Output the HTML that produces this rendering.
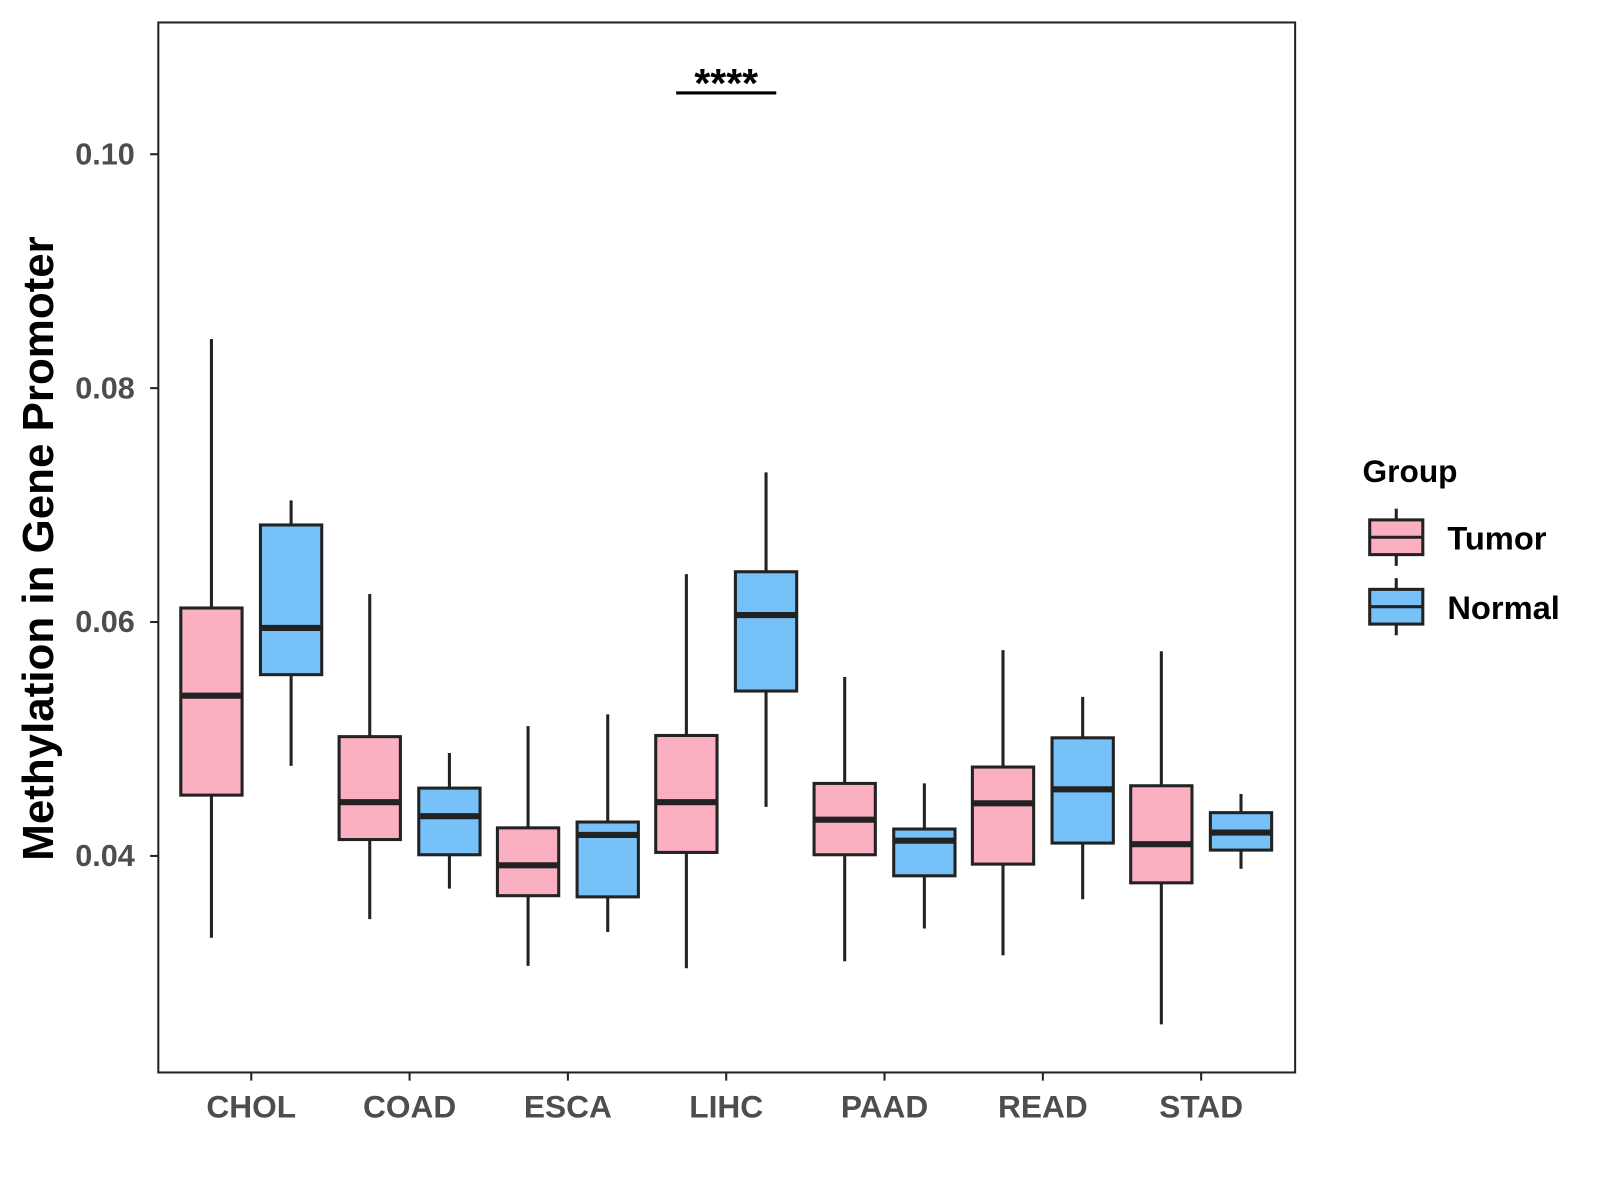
<!DOCTYPE html>
<html><head><meta charset="utf-8"><style>
html,body{margin:0;padding:0;background:#fff;}
svg{display:block;font-family:"Liberation Sans",Arial,sans-serif;}
</style></head><body>
<svg id="chart" width="1600" height="1200" xmlns="http://www.w3.org/2000/svg">
<g transform="scale(1.0214)">
<rect x="155" y="22" width="1113" height="1028" fill="#fff" stroke="#222" stroke-width="2"/>
<g id="marks"></g>
<text transform="translate(52,537) rotate(-90)" text-anchor="middle" font-size="43" font-weight="bold" fill="#000">Methylation in Gene Promoter</text>
<g>
<line x1="662" y1="91" x2="760" y2="91" stroke="#000" stroke-width="3"/>
<text x="711" y="95" text-anchor="middle" font-size="40" font-weight="bold">****</text>
</g>
<g>
<text x="1334" y="472" font-size="31" font-weight="bold">Group</text>
<g>
<line x1="1367" y1="498" x2="1367" y2="554" stroke="#222" stroke-width="3"/>
<rect x="1341" y="509" width="52" height="34" fill="#fbb0c1" stroke="#222" stroke-width="3"/>
<line x1="1341" y1="526" x2="1393" y2="526" stroke="#222" stroke-width="3"/>
<text x="1417" y="538" font-size="32" font-weight="bold">Tumor</text></g>
<g>
<line x1="1367" y1="566" x2="1367" y2="622" stroke="#222" stroke-width="3"/>
<rect x="1341" y="577" width="52" height="34" fill="#76c1f7" stroke="#222" stroke-width="3"/>
<line x1="1341" y1="594" x2="1393" y2="594" stroke="#222" stroke-width="3"/>
<text x="1417" y="606" font-size="32" font-weight="bold">Normal</text></g>
</g>
</g>
</svg>
<script>
const categories=["CHOL","COAD","ESCA","LIHC","PAAD","READ","STAD"];
const tumorStats=[[0.0330,0.0452,0.0537,0.0612,0.0842],[0.0346,0.0414,0.0446,0.0502,0.0624],[0.0306,0.0366,0.0392,0.0424,0.0511],[0.0304,0.0403,0.0446,0.0503,0.0641],[0.0310,0.0401,0.0431,0.0462,0.0553],[0.0315,0.0393,0.0445,0.0476,0.0576],[0.0256,0.0377,0.0410,0.0460,0.0575]];
const normalStats=[[0.0477,0.0555,0.0595,0.0683,0.0704],[0.0372,0.0401,0.0434,0.0458,0.0488],[0.0335,0.0365,0.0418,0.0429,0.0521],[0.0442,0.0541,0.0606,0.0643,0.0728],[0.0338,0.0383,0.0413,0.0423,0.0462],[0.0363,0.0411,0.0457,0.0501,0.0536],[0.0389,0.0405,0.0420,0.0437,0.0453]];
const yTicks=[0.04,0.06,0.08,0.10];
const yTickLabels=["0.04","0.06","0.08","0.10"];
const NS="http://www.w3.org/2000/svg";
const g=document.getElementById('marks');
function yScale(v){return 151+(0.10-v)*229/0.02;}
function xScale(i){return 246+i*155;}
function mk(tag,attrs){const e=document.createElementNS(NS,tag);for(const k in attrs)e.setAttribute(k,attrs[k]);g.appendChild(e);return e;}
yTicks.forEach((t,i)=>{
  const y=yScale(t);
  const tk=mk('line',{x1:147,x2:155,y1:y,y2:y,stroke:'#222','stroke-width':2});
  
  
  const tx=mk('text',{x:132,y:y+10,'text-anchor':'end','font-size':30,'font-weight':'bold',fill:'#4d4d4d'});
  tx.textContent=yTickLabels[i];
  
  
});
categories.forEach((c,i)=>{
  const x=xScale(i);
  const tk=mk('line',{x1:x,x2:x,y1:1050,y2:1058,stroke:'#222','stroke-width':2});
  
  
  const tx=mk('text',{x:x,y:1094,'text-anchor':'middle','font-size':31,'font-weight':'bold',fill:'#4d4d4d'});
  tx.textContent=c;
  
  
  [[tumorStats[i],-39,'#fbb0c1','tumor'],[normalStats[i],39,'#76c1f7','normal']].forEach(([s,off,col,nm])=>{
    const cx=x+off,w=60;
    const wl=mk('line',{x1:cx,x2:cx,y1:yScale(s[4]),y2:yScale(s[0]),stroke:'#222','stroke-width':3});
    
    
    const b=mk('rect',{x:cx-w/2,y:yScale(s[3]),width:w,height:yScale(s[1])-yScale(s[3]),fill:col,stroke:'#222','stroke-width':3});
    
    
    const m=mk('line',{x1:cx-w/2,x2:cx+w/2,y1:yScale(s[2]),y2:yScale(s[2]),stroke:'#222','stroke-width':6});
    
    
  });
});
</script>
</body></html>
